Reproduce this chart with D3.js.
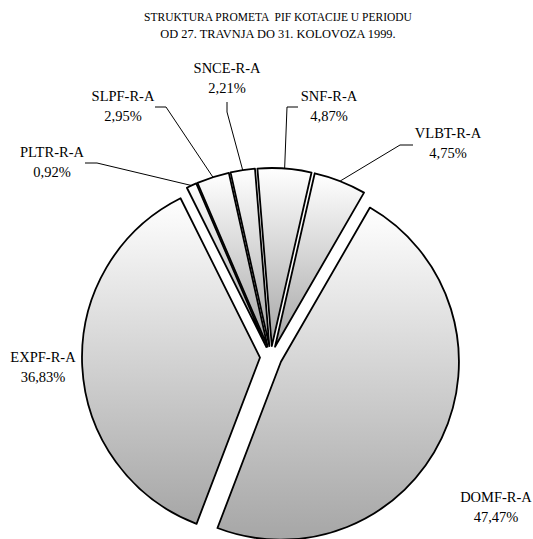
<!DOCTYPE html>
<html>
<head>
<meta charset="utf-8">
<script src="https://cdn.jsdelivr.net/npm/d3@7"></script>
<style>
body { margin: 0; background: #fff; }
</style>
</head>
<body>
<script>
var categories = ["DOMF-R-A", "EXPF-R-A", "PLTR-R-A", "SLPF-R-A", "SNCE-R-A", "SNF-R-A", "VLBT-R-A"];
var shares = [47.47, 36.83, 0.92, 2.95, 2.21, 4.87, 4.75];
var shareLabels = ["47,47%", "36,83%", "0,92%", "2,95%", "2,21%", "4,87%", "4,75%"];
var titleLines = ["STRUKTURA PROMETA  PIF KOTACIJE U PERIODU", "OD 27. TRAVNJA DO 31. KOLOVOZA 1999."];

// labels were dragged by hand in the original, so they are placed by hand here too
// x = text centre, y = first baseline, leader = fixed part of the leader line next to the label
var labelLayout = {
  "DOMF-R-A": {x: 496, y: 502},
  "EXPF-R-A": {x: 43, y: 362},
  "PLTR-R-A": {x: 52, y: 157, leader: [[85, 163], [97, 163]]},
  "SLPF-R-A": {x: 123, y: 101, leader: [[155, 107], [166, 107]]},
  "SNCE-R-A": {x: 227, y: 73, leader: [[227, 102], [227, 112]]},
  "SNF-R-A": {x: 329, y: 101, leader: [[298, 107], [287, 107]]},
  "VLBT-R-A": {x: 448, y: 138, leader: [[413, 145], [400, 145]]}
};

var width = 533,
    height = 539;

var cx = 271,
    cy = 357,
    radius = 178,
    explode = 11,
    startDeg = 30;

var fontFamily = "'Liberation Serif', 'Times New Roman', serif";

var data = categories.map(function(c, i) {
  return {name: c, value: shares[i], label: shareLabels[i]};
});

var svg = d3.select("body").append("svg")
  .attr("width", width)
  .attr("height", height);

var defs = svg.append("defs");

// title
svg.append("g").selectAll("text")
  .data(titleLines)
  .enter().append("text")
  .attr("x", 278)
  .attr("y", function(d, i) { return 21 + i * 17; })
  .attr("text-anchor", "middle")
  .attr("font-family", fontFamily)
  .style("font-size", function(d, i) { return i == 0 ? "11.5px" : "12.4px"; })
  .style("white-space", "pre")
  .text(function(d) { return d; });

var pie = d3.pie()
  .sort(null)
  .value(function(d) { return d.value; })
  .startAngle(startDeg * Math.PI / 180)
  .endAngle(startDeg * Math.PI / 180 + 2 * Math.PI);

var arcs = pie(data);

var arc = d3.arc()
  .innerRadius(0)
  .outerRadius(radius);

var rimArc = d3.arc()
  .innerRadius(radius + explode)
  .outerRadius(radius + explode);

function midAngle(d) { return (d.startAngle + d.endAngle) / 2; }

// one vertical gradient per slice, white at the top to grey at the bottom
arcs.forEach(function(d, i) {
  var grad = defs.append("linearGradient")
    .attr("id", "grad" + i)
    .attr("x1", 0).attr("y1", 0)
    .attr("x2", 0).attr("y2", 1);
  grad.append("stop").attr("offset", "0%").attr("stop-color", "#ffffff");
  grad.append("stop").attr("offset", "100%").attr("stop-color", "#a6a6a6");
});

var g = svg.append("g")
  .attr("transform", "translate(" + cx + "," + cy + ")");

g.selectAll("path.slice")
  .data(arcs)
  .enter().append("path")
  .attr("class", "slice")
  .attr("transform", function(d) {
    var a = midAngle(d);
    return "translate(" + (Math.sin(a) * explode) + "," + (-Math.cos(a) * explode) + ")";
  })
  .attr("d", arc)
  .style("fill", function(d, i) { return "url(#grad" + i + ")"; })
  .style("stroke", "#000")
  .style("stroke-width", 1.8)
  .style("stroke-linejoin", "round");

// leader lines
var line = d3.line();

svg.append("g").selectAll("path")
  .data(arcs.filter(function(d) { return labelLayout[d.data.name].leader; }))
  .enter().append("path")
  .attr("d", function(d) {
    var p = rimArc.centroid(d);
    var pts = labelLayout[d.data.name].leader.concat([[cx + p[0], cy + p[1]]]);
    return line(pts);
  })
  .style("fill", "none")
  .style("stroke", "#000")
  .style("stroke-width", 1);

// labels
var labels = svg.append("g").selectAll("text")
  .data(arcs)
  .enter().append("text")
  .attr("text-anchor", "middle")
  .attr("font-family", fontFamily)
  .style("font-size", "14.5px");

labels.append("tspan")
  .attr("x", function(d) { return labelLayout[d.data.name].x; })
  .attr("y", function(d) { return labelLayout[d.data.name].y; })
  .text(function(d) { return d.data.name; });

labels.append("tspan")
  .attr("x", function(d) { return labelLayout[d.data.name].x; })
  .attr("y", function(d) { return labelLayout[d.data.name].y + 20; })
  .text(function(d) { return d.data.label; });
</script>
</body>
</html>
